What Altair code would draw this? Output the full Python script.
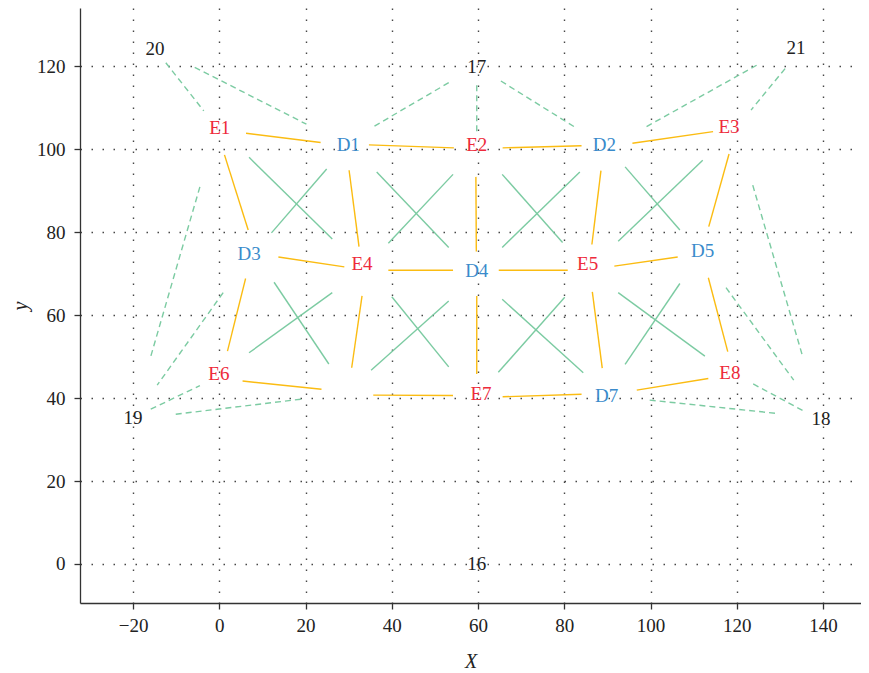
import altair as alt
import pandas as pd

# ---- yellow solid edges (data coords) ----
yx1 = [6.2, 34.7, 65.7, 95.8, 1.2, 30.1, 59.5, 88.5, 118.2, 13.7, 39.2, 64.8, 91.6, 6.1, 33.1, 59.7, 86.5, 113.4, 5.4, 35.7, 65.7, 96.8]
yy1 = [103.8, 101.0, 100.3, 101.4, 98.6, 94.9, 93.3, 94.8, 98.8, 74.0, 70.8, 70.8, 71.8, 68.8, 64.6, 64.6, 65.6, 69.0, 44.1, 40.7, 40.3, 41.9]
yx2 = [23.5, 54.4, 84.0, 114.5, 6.7, 32.4, 59.6, 86.4, 113.5, 29.0, 54.2, 80.8, 106.3, 1.9, 30.7, 59.7, 88.8, 117.9, 23.7, 54.2, 84.0, 113.4]
yy2 = [101.6, 100.3, 100.8, 104.2, 80.5, 76.5, 75.3, 77.0, 81.3, 71.6, 70.8, 70.8, 74.0, 51.3, 47.3, 45.8, 47.2, 51.2, 42.1, 40.6, 40.9, 44.7]

# ---- green solid cross edges ----
gx1 = [6.9, 24.9, 36.5, 54.2, 65.6, 83.6, 94.1, 112.1, 12.7, 26.2, 40.0, 53.2, 65.6, 80.1, 92.5, 106.8]
gy1 = [98.0, 95.2, 94.5, 93.9, 93.9, 94.5, 95.7, 97.3, 67.9, 65.4, 64.4, 63.4, 63.8, 64.3, 65.4, 67.6]
gx2 = [26.2, 12.1, 53.2, 39.2, 79.6, 65.6, 106.8, 92.5, 25.4, 6.9, 53.2, 35.2, 84.4, 64.7, 112.6, 94.1]
gy2 = [78.3, 79.8, 76.3, 77.3, 77.5, 76.3, 80.5, 77.8, 48.2, 50.9, 47.5, 46.7, 46.1, 46.2, 50.1, 48.1]

# ---- green dashed edges ----
dx1 = [-12.4, -5.7, 53.2, 59.7, 65.3, 124.6, 131.2, -4.5, 0.9, -15.9, -10.1, 123.7, 117.5, 123.8, 99.8]
dy1 = [120.8, 119.7, 116.0, 115.4, 116.4, 120.2, 119.4, 90.9, 65.4, 37.3, 36.1, 91.3, 66.6, 43.4, 39.5]
dx2 = [-3.6, 20.2, 35.6, 59.7, 82.9, 98.7, 123.3, -15.9, -14.4, -4.5, 19.6, 135.3, 133.2, 135.8, 129.2]
dy2 = [109.2, 106.0, 105.3, 103.8, 105.0, 105.2, 109.4, 50.0, 43.1, 43.0, 39.8, 49.9, 44.3, 36.7, 36.3]

# ---- node labels ----
names = ["E1", "D1", "E2", "D2", "E3", "D3", "E4", "D4", "E5", "D5", "E6", "E7", "D7", "E8",
         "16", "17", "18", "19", "20", "21"]
lx = [0.1, 29.9, 59.7, 89.3, 118.2, 6.9, 33.1, 59.7, 85.4, 112.1, -0.1, 60.7, 89.8, 118.4,
      59.7, 59.7, 139.5, -20.0, -14.9, 133.7]
ly = [105.0, 101.1, 101.1, 101.1, 105.4, 74.6, 72.2, 70.6, 72.2, 75.4, 45.7, 40.9, 40.5, 46.1,
      0.0, 119.8, 34.9, 35.1, 124.1, 124.4]

x_ticks = [-20, 0, 20, 40, 60, 80, 100, 120, 140]
y_ticks = [0, 20, 40, 60, 80, 100, 120]

FONT = "Liberation Serif"
xs = alt.Scale(domain=[-32.3, 148.8], nice=False, zero=False)
ys = alt.Scale(domain=[-9.4, 134], nice=False, zero=False)

def kind(n):
    if n.startswith("E"):
        return "E"
    if n.startswith("D"):
        return "D"
    return "N"

yel = pd.DataFrame({"x": yx1, "y": yy1, "x2": yx2, "y2": yy2})
grn = pd.DataFrame({"x": gx1, "y": gy1, "x2": gx2, "y2": gy2})
dsh = pd.DataFrame({"x": dx1, "y": dy1, "x2": dx2, "y2": dy2})
lab = pd.DataFrame({"name": names, "x": lx, "y": ly, "kind": [kind(n) for n in names]})

xaxis = alt.Axis(values=x_ticks, title="X", grid=True)
yaxis = alt.Axis(values=y_ticks, title="y", grid=True)

def seg_layer(df, color, dash=None, width=1.4):
    kw = dict(color=color, strokeWidth=width)
    if dash:
        kw["strokeDash"] = dash
    return alt.Chart(df).mark_rule(**kw).encode(
        x=alt.X("x:Q", scale=xs, axis=xaxis),
        y=alt.Y("y:Q", scale=ys, axis=yaxis),
        x2="x2:Q",
        y2="y2:Q",
    )

yl = seg_layer(yel, "#FBBC12")
gl = seg_layer(grn, "#7CCBA2")
dl = seg_layer(dsh, "#7CCBA2", dash=[6, 4])

tl = alt.Chart(lab).mark_text(font=FONT, fontSize=19, align="center", baseline="middle").encode(
    x=alt.X("x:Q", scale=xs, axis=xaxis),
    y=alt.Y("y:Q", scale=ys, axis=yaxis),
    text="name:N",
    color=alt.Color("kind:N", scale=alt.Scale(domain=["E", "D", "N"],
                                              range=["#EE2A3B", "#3A8BCB", "#222222"]),
                    legend=None),
)

chart = alt.layer(yl, gl, dl, tl).properties(
    width=781, height=595,
    autosize=alt.AutoSizeParams(type="none"),
    padding={"left": 72, "top": 0, "right": 0, "bottom": 68},
).configure_view(stroke=None).configure_axis(
    labelFont=FONT, labelFontSize=19, labelColor="#222",
    titleFont=FONT, titleFontSize=20, titleFontStyle="italic", titleFontWeight="normal", titleColor="#222",
    domainColor="#333", domainWidth=1.3, tickColor="#333", tickWidth=1.3, tickSize=6,
    gridColor="#333", gridDash=[1.5, 9.5], gridWidth=1.4, gridOpacity=0.9,
).configure_axisX(labelPadding=7, titlePadding=16).configure_axisY(labelPadding=9, titlePadding=6)

chart.save("out.html", embed_options={"renderer": "svg", "actions": False})
